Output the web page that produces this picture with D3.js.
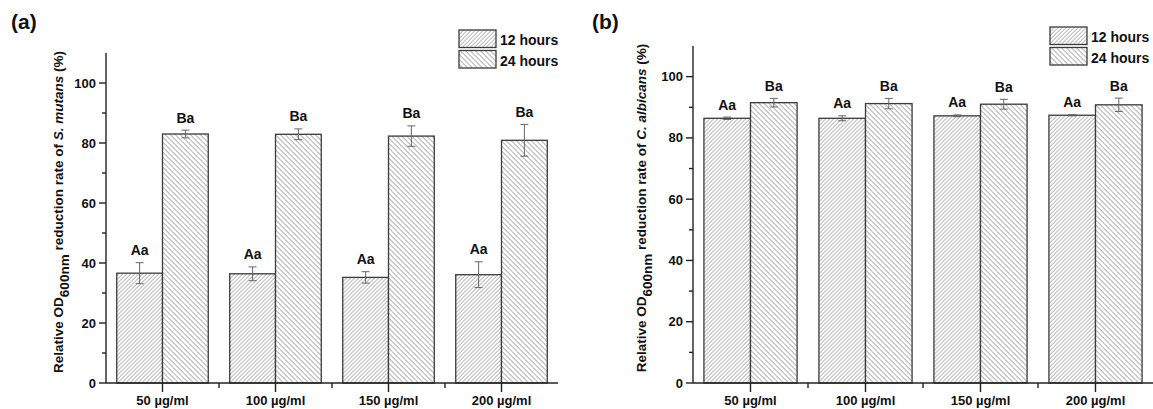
<!DOCTYPE html>
<html lang="en">
  <head>
    <meta charset="utf-8" />
    <title>Relative OD600nm reduction rate</title>
    <script src="https://d3js.org/d3.v7.min.js"></script>
    <style>
      body {
        margin: 0;
        background: #fff;
      }
      svg {
        font-family: "Liberation Sans", Arial, sans-serif;
        font-weight: bold;
      }
      .bar {
        stroke: #3a3a3a;
        stroke-width: 1.3;
      }
      .err {
        stroke: #666;
        stroke-width: 1;
        fill: none;
      }
      .axis line,
      .axis path {
        stroke: #222;
        stroke-width: 1.4;
      }
    </style>
  </head>

  <body>
    <svg id="chart" width="1153" height="409"></svg>

    <script>
      const concentrations = ["50 µg/ml", "100 µg/ml", "150 µg/ml", "200 µg/ml"];
      const seriesNames = ["12 hours", "24 hours"];

      // panel (a) S. mutans
      const mutans12 = [36.6, 36.4, 35.2, 36.1];
      const mutans12Err = [3.5, 2.3, 1.9, 4.3];
      const mutans24 = [83.0, 82.9, 82.3, 80.9];
      const mutans24Err = [1.3, 1.8, 3.4, 5.3];
      const mutansLetters12 = ["Aa", "Aa", "Aa", "Aa"];
      const mutansLetters24 = ["Ba", "Ba", "Ba", "Ba"];

      // panel (b) C. albicans
      const albicans12 = [86.4, 86.4, 87.2, 87.4];
      const albicans12Err = [0.4, 0.8, 0.3, 0.2];
      const albicans24 = [91.5, 91.2, 91.0, 90.8];
      const albicans24Err = [1.4, 1.7, 1.6, 2.2];
      const albicansLetters12 = ["Aa", "Aa", "Aa", "Aa"];
      const albicansLetters24 = ["Ba", "Ba", "Ba", "Ba"];

      const yTicks = [0, 20, 40, 60, 80, 100];
      const yMinorTicks = [10, 30, 50, 70, 90];

      const svg = d3.select("#chart");

      // hatch patterns: 12 hours "////" dense, 24 hours "\\\\" wider
      // tile size chosen so the horizontal period is a whole number of pixels (no moire)
      function hatch(id, step, angle, color, sw) {
        const p = svg
          .select("defs")
          .append("pattern")
          .attr("id", id)
          .attr("patternUnits", "userSpaceOnUse")
          .attr("width", step)
          .attr("height", step)
          .attr("patternTransform", `rotate(${angle})`);
        p.append("rect").attr("width", step).attr("height", step).attr("fill", "#fff");
        p.append("line").attr("x1", 0).attr("y1", 0).attr("x2", 0).attr("y2", step).attr("stroke", color).attr("stroke-width", sw);
      }
      svg.append("defs");
      hatch("hatch12", 4 / Math.SQRT2, 45, "#6e6e6e", 1);
      hatch("hatch24", 5 / Math.SQRT2, -45, "#666", 1);

      const fills = ["url(#hatch12)", "url(#hatch24)"];

      function drawPanel(cfg) {
        const g = svg.append("g");

        const y = d3.scaleLinear().domain([0, 110]).range([383, cfg.yTop]);
        const x = d3.scaleBand().domain(concentrations).range([cfg.left, cfg.right]);
        const barW = x.bandwidth() * 0.405;

        const series = [
          { vals: cfg.v12, errs: cfg.e12, letters: cfg.l12 },
          { vals: cfg.v24, errs: cfg.e24, letters: cfg.l24 },
        ];

        // bars
        series.forEach((s, si) => {
          const rows = concentrations.map((c, i) => ({ c, v: s.vals[i], e: s.errs[i], t: s.letters[i] }));
          const bx = (d) => x(d.c) + x.bandwidth() / 2 + (si === 0 ? -barW : 0);

          g.selectAll(null)
            .data(rows)
            .join("rect")
            .attr("class", "bar")
            .attr("x", bx)
            .attr("width", barW)
            .attr("y", (d) => y(d.v))
            .attr("height", (d) => y(0) - y(d.v))
            .attr("fill", fills[si]);

          const cx = (d) => bx(d) + barW / 2;
          const eb = g.selectAll(null).data(rows).join("g").attr("class", "err");
          eb.append("line").attr("x1", cx).attr("x2", cx).attr("y1", (d) => y(d.v - d.e)).attr("y2", (d) => y(d.v + d.e));
          eb.append("line").attr("x1", (d) => cx(d) - 4).attr("x2", (d) => cx(d) + 4).attr("y1", (d) => y(d.v + d.e)).attr("y2", (d) => y(d.v + d.e));
          eb.append("line").attr("x1", (d) => cx(d) - 4).attr("x2", (d) => cx(d) + 4).attr("y1", (d) => y(d.v - d.e)).attr("y2", (d) => y(d.v - d.e));

          g.selectAll(null)
            .data(rows)
            .join("text")
            .attr("x", cx)
            .attr("y", (d) => y(d.v + d.e) - 7.5)
            .attr("text-anchor", "middle")
            .attr("font-size", 14)
            .attr("fill", "#111")
            .text((d) => d.t);
        });

        // y axis
        const ya = g.append("g").attr("class", "axis").attr("transform", `translate(${cfg.left},0)`);
        ya.append("line").attr("x1", 0).attr("x2", 0).attr("y1", y(0)).attr("y2", y(110));
        ya.selectAll(null)
          .data(yTicks)
          .join("line")
          .attr("x1", -7)
          .attr("x2", 0)
          .attr("y1", (d) => y(d))
          .attr("y2", (d) => y(d));
        ya.selectAll(null)
          .data(yMinorTicks)
          .join("line")
          .attr("x1", -4)
          .attr("x2", 0)
          .attr("y1", (d) => y(d))
          .attr("y2", (d) => y(d));
        ya.selectAll(null)
          .data(yTicks)
          .join("text")
          .attr("x", -10)
          .attr("y", (d) => y(d))
          .attr("dy", "0.35em")
          .attr("text-anchor", "end")
          .attr("font-size", 13)
          .attr("fill", "#111")
          .text((d) => d);

        // x axis
        const xa = g.append("g").attr("class", "axis").attr("transform", `translate(0,${y(0)})`);
        xa.append("line").attr("x1", cfg.left).attr("x2", cfg.right).attr("y1", 0).attr("y2", 0);
        xa.selectAll(null)
          .data(concentrations)
          .join("line")
          .attr("x1", (d) => x(d) + x.bandwidth() / 2)
          .attr("x2", (d) => x(d) + x.bandwidth() / 2)
          .attr("y1", 0)
          .attr("y2", 9);
        xa.selectAll(null)
          .data(concentrations.slice(1))
          .join("line")
          .attr("x1", (d) => x(d))
          .attr("x2", (d) => x(d))
          .attr("y1", 0)
          .attr("y2", 5);
        xa.selectAll(null)
          .data(concentrations)
          .join("text")
          .attr("x", (d) => x(d) + x.bandwidth() / 2)
          .attr("y", 22)
          .attr("text-anchor", "middle")
          .attr("font-size", 13)
          .attr("fill", "#111")
          .text((d) => d);

        // y title, with subscript
        const t = g
          .append("text")
          .attr("transform", `translate(${cfg.titleX},${cfg.titleY}) rotate(-90)`)
          .attr("text-anchor", "middle")
          .attr("font-size", 13.5)
          .attr("fill", "#111")
          .style("white-space", "pre");
        t.append("tspan").text("Relative OD");
        t.append("tspan").attr("dy", 6).text("600nm");
        t.append("tspan").attr("dy", -6).text(" reduction rate of ");
        t.append("tspan").attr("font-style", "italic").text(cfg.species);
        t.append("tspan").text(" (%)");

        // panel label
        g.append("text")
          .attr("x", cfg.labelX)
          .attr("y", 29)
          .attr("font-size", 21)
          .attr("fill", "#111")
          .text(cfg.label);

        // legend
        const lg = g.append("g").attr("transform", `translate(${cfg.legX},${cfg.legY})`);
        seriesNames.forEach((name, i) => {
          lg.append("rect")
            .attr("class", "bar")
            .attr("x", 0)
            .attr("y", i * 20.5)
            .attr("width", 37)
            .attr("height", 17.5)
            .attr("fill", fills[i]);
          lg.append("text")
            .attr("x", 41)
            .attr("y", i * 20.5 + 15)
            .attr("font-size", 14)
            .attr("fill", "#111")
            .text(name);
        });
      }

      drawPanel({
        label: "(a)",
        labelX: 11,
        left: 106,
        right: 558,
        yTop: 53,
        titleX: 63,
        titleY: 212,
        species: "S. mutans",
        legX: 459,
        legY: 30,
        v12: mutans12,
        e12: mutans12Err,
        v24: mutans24,
        e24: mutans24Err,
        l12: mutansLetters12,
        l24: mutansLetters24,
      });

      drawPanel({
        label: "(b)",
        labelX: 592,
        left: 693,
        right: 1153,
        yTop: 46,
        titleX: 646,
        titleY: 208,
        species: "C. albicans",
        legX: 1050,
        legY: 27,
        v12: albicans12,
        e12: albicans12Err,
        v24: albicans24,
        e24: albicans24Err,
        l12: albicansLetters12,
        l24: albicansLetters24,
      });
    </script>
  </body>
</html>
